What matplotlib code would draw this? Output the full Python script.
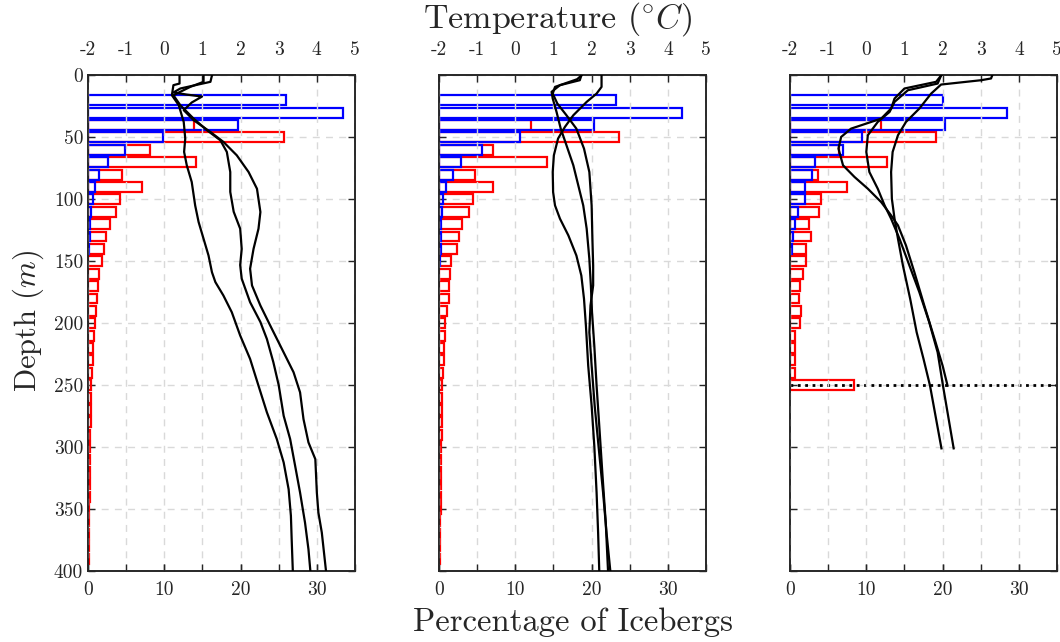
import matplotlib
matplotlib.use("Agg")

import matplotlib.pyplot as plt
import numpy as np

plt.rcParams.update({
    "font.family": "cmr10",
    "mathtext.fontset": "cm",
    "axes.unicode_minus": False,
    "axes.formatter.use_mathtext": True,
})

# iceberg keel-depth histograms (% of icebergs per 10 m bin)
# blue bins start at 20 m, red bins start at 40 m
p1_blue = [26.0, 33.4, 19.7, 9.8, 4.9, 2.65, 1.5, 0.9, 0.6, 0.4, 0.3, 0.2, 0.15]
p1_red = [13.9, 25.7, 8.1, 14.2, 4.5, 7.1, 4.2, 3.7, 2.9, 2.3, 2.1, 1.8, 1.5, 1.3,
          1.2, 1.1, 0.9, 0.8, 0.7, 0.6, 0.5, 0.45, 0.4, 0.4, 0.35, 0.3, 0.3, 0.25,
          0.25, 0.2, 0.2, 0.15, 0.15, 0.1, 0.1, 0.1]
p2_blue = [23.2, 31.8, 20.3, 10.6, 5.6, 2.9, 1.8, 0.9, 0.5, 0.4, 0.3, 0.25, 0.2, 0.15]
p2_red = [12.1, 23.6, 7.1, 14.2, 4.7, 7.1, 4.4, 3.9, 3.0, 2.6, 2.4, 1.6, 1.4, 1.3,
          1.25, 1.0, 0.8, 0.8, 0.7, 0.6, 0.5, 0.45, 0.4, 0.4, 0.35, 0.35, 0.3, 0.3,
          0.25, 0.25, 0.2, 0.2, 0.15, 0.15, 0.1, 0.1]
p3_blue = [20.0, 28.5, 20.3, 9.5, 7.0, 3.3, 2.9, 1.9, 1.9, 1.1, 0.7, 0.35, 0.25]
p3_red = [11.9, 19.1, 6.4, 12.7, 3.7, 7.5, 4.0, 3.8, 2.5, 2.7, 2.1, 2.1, 1.7, 1.3,
          1.2, 1.5, 1.25, 0.7, 0.7, 0.7, 0.7, 8.4]

# CTD temperature profiles: depth (m) and temperature (deg C)
p1_depth = [
    [0, 6.5, 7.8, 15.9, 24.0, 37.5, 50.9, 61.7, 72.5, 86.0, 104.9, 118.3, 131.8, 145.3,
     158.8, 166.8, 177.6, 191.1, 209.9, 228.8, 250.4, 271.9, 293.5, 312.4, 334.0,
     355.5, 374.4, 400],
    [0, 5.1, 9.2, 15.9, 24.0, 34.8, 44.2, 52.3, 61.7, 77.9, 94.0, 110.0, 123.7, 140.0,
     153.0, 164.0, 183.0, 199.0, 212.7, 231.5, 250.0, 274.7, 293.5, 315.0, 336.7,
     361.0, 382.5, 400],
    [0, 5.1, 10.5, 13.7, 15.4, 17.0, 21.8, 28.0, 36.1, 45.6, 53.6, 64.4, 77.9, 91.4,
     110.2, 123.7, 140.0, 156.0, 169.5, 185.7, 202.0, 218.0, 239.6, 255.8, 277.4,
     296.2, 309.7, 336.7, 352.8, 369.0, 400],
]
p1_temp = [
    [0.40, 0.40, 0.24, 0.20, 0.38, 0.51, 0.55, 0.52, 0.59, 0.72, 0.81, 0.90, 1.03, 1.16,
     1.25, 1.34, 1.55, 1.77, 1.99, 2.25, 2.47, 2.69, 2.95, 3.13, 3.26, 3.32, 3.34, 3.37],
    [1.03, 1.03, 0.68, 0.24, 0.42, 0.77, 1.12, 1.47, 1.64, 1.73, 1.73, 1.82, 1.99, 2.03,
     1.99, 2.03, 2.25, 2.52, 2.69, 2.86, 3.00, 3.13, 3.30, 3.43, 3.56, 3.69, 3.78, 3.83],
    [1.25, 1.21, 0.42, 0.24, 0.59, 0.99, 0.72, 0.51, 0.77, 1.21, 1.55, 1.90, 2.21, 2.43,
     2.52, 2.47, 2.34, 2.25, 2.30, 2.52, 2.78, 3.04, 3.39, 3.56, 3.65, 3.78, 3.96, 4.00,
     4.04, 4.13, 4.24],
]
p2_depth = [
    [0, 9.2, 14.6, 21.3, 32.1, 41.5, 50.9, 64.4, 77.9, 94.1, 104.9, 115.6, 129.1, 145.3,
     161.5, 180.3, 201.9, 234.2, 266.6, 298.9, 336.7, 369.0, 400],
    [0, 3.8, 7.8, 13.2, 18.6, 29.4, 42.9, 56.3, 72.5, 88.7, 104.9, 123.7, 148.0, 169.5,
     191.1, 218.1, 250.4, 282.7, 320.5, 360.9, 400],
    [0, 3.0, 9.2, 14.6, 22.6, 32.1, 42.9, 59.0, 77.9, 104.9, 131.8, 153.4, 169.5, 185.7,
     207.3, 234.2, 266.6, 298.9, 336.7, 369.0, 400],
]
p2_temp = [
    [2.26, 2.26, 2.13, 1.87, 1.52, 1.30, 1.12, 1.01, 0.98, 0.99, 1.04, 1.17, 1.39, 1.60,
     1.73, 1.80, 1.85, 1.91, 2.00, 2.07, 2.13, 2.17, 2.20],
    [1.73, 1.69, 1.17, 0.95, 0.98, 1.08, 1.19, 1.34, 1.52, 1.65, 1.78, 1.87, 1.94, 1.98,
     2.01, 2.07, 2.13, 2.20, 2.28, 2.37, 2.43],
    [1.73, 1.62, 1.04, 0.98, 1.10, 1.34, 1.60, 1.80, 1.94, 2.00, 2.02, 2.04, 2.04, 1.97,
     1.94, 2.00, 2.08, 2.18, 2.30, 2.39, 2.49],
]
p3_depth = [
    [0, 2.4, 3.8, 7.3, 14.6, 26.7, 37.5, 48.2, 61.7, 77.9, 99.5, 115.6, 131.8, 153.4,
     180.3, 207.3, 228.8, 250.4, 301],
    [0, 6.5, 11.9, 21.3, 29.4, 37.5, 48.2, 61.7, 77.9, 91.4, 104.9, 115.6, 131.8, 153.4,
     174.9, 199.2, 223.5, 250.4, 301],
    [0, 5.1, 10.5, 18.6, 26.7, 34.8, 42.9, 49.6, 59.0, 72.5, 81.9, 91.4, 102.2, 112.9,
     121.0, 137.2, 158.8, 185.7, 212.7, 234.2, 250.4],
]
p3_temp = [
    [3.30, 3.27, 3.01, 1.96, 1.70, 1.39, 1.04, 0.83, 0.69, 0.65, 0.67, 0.74, 0.83, 0.96,
     1.15, 1.32, 1.50, 1.67, 1.97],
    [1.96, 1.87, 1.09, 0.74, 0.61, 0.30, 0.04, 0.00, 0.08, 0.30, 0.48, 0.65, 0.87, 1.13,
     1.39, 1.65, 1.87, 2.01, 2.29],
    [1.96, 1.83, 1.00, 0.74, 0.65, 0.39, -0.40, -0.66, -0.73, -0.61, -0.31, 0.04, 0.39,
     0.65, 0.83, 1.04, 1.26, 1.52, 1.79, 2.00, 2.13],
]

p3_marker_depth = 250

depth_ticks = [0, 50, 100, 150, 200, 250, 300, 350, 400]
pct_ticks = [0, 10, 20, 30]
temp_ticks = [-2, -1, 0, 1, 2, 3, 4, 5]

AX_COLOR = "0.15"
GRID = dict(color="0.85", ls="--", lw=1.0, dashes=(5, 4.5))


def bins(start, n):
    return np.arange(start, start + 10 * n, 10)


def panel(fig, rect, blue, red, depths, temps, ylabels):
    ax = fig.add_axes(rect)
    ax.set_xlim(0, 35)
    ax.set_ylim(400, 0)
    ax.set_axisbelow(True)
    ax.grid(True, axis="y", **GRID)

    ax.barh(bins(40, len(red)), red, height=8, facecolor="none",
            edgecolor="red", lw=1.6, zorder=2)
    ax.barh(bins(20, len(blue)), blue, height=8, facecolor="none",
            edgecolor="blue", lw=1.6, zorder=2)

    ax.set_xticks(pct_ticks)
    ax.set_xticklabels([str(t) for t in pct_ticks])
    ax.set_yticks(depth_ticks)
    if ylabels:
        ax.set_yticklabels([str(t) for t in depth_ticks])
    else:
        ax.set_yticklabels([])
    ax.tick_params(direction="in", length=5, width=1, color=AX_COLOR,
                   labelcolor=AX_COLOR, labelsize=14, right=True, top=False)
    ax.tick_params(axis="x", pad=7)

    tx = ax.twiny()
    tx.set_xlim(-2, 5)
    tx.set_axisbelow(True)
    tx.grid(True, axis="x", **GRID)
    for d, t in zip(depths, temps):
        tx.plot(t, d, color="k", lw=1.6, zorder=3)
    tx.set_xticks(temp_ticks)
    tx.set_xticklabels([str(t) for t in temp_ticks])
    tx.tick_params(direction="in", length=5, width=1, color=AX_COLOR,
                   labelcolor=AX_COLOR, labelsize=14, top=True, bottom=True,
                   labelbottom=False, pad=12)

    for a in (ax, tx):
        for s in a.spines.values():
            s.set_color(AX_COLOR)
            s.set_linewidth(1.2)
    return ax, tx


fig = plt.figure(figsize=(10.6, 6.42), dpi=100)

W, H = 0.2519, 0.7718
B = 0.1106
ax1, _ = panel(fig, [0.0830, B, W, H], p1_blue, p1_red, p1_depth, p1_temp, True)
ax2, _ = panel(fig, [0.4142, B, W, H], p2_blue, p2_red, p2_depth, p2_temp, False)
ax3, _ = panel(fig, [0.7453, B, W, H], p3_blue, p3_red, p3_depth, p3_temp, False)

ax3.axhline(p3_marker_depth, color="k", ls=":", lw=2.0, zorder=4)

fig.text(0.526, 0.970, r"Temperature ($^{\circ}C$)", ha="center", va="center",
         fontsize=24.5, color=AX_COLOR)
fig.text(0.541, 0.031, "Percentage of Icebergs", ha="center", va="center",
         fontsize=23.5, color=AX_COLOR)
fig.text(0.027, 0.500, r"Depth ($m$)", ha="center", va="center", rotation=90,
         fontsize=22, color=AX_COLOR)

fig.savefig("out.png", dpi=100)
plt.close(fig)
